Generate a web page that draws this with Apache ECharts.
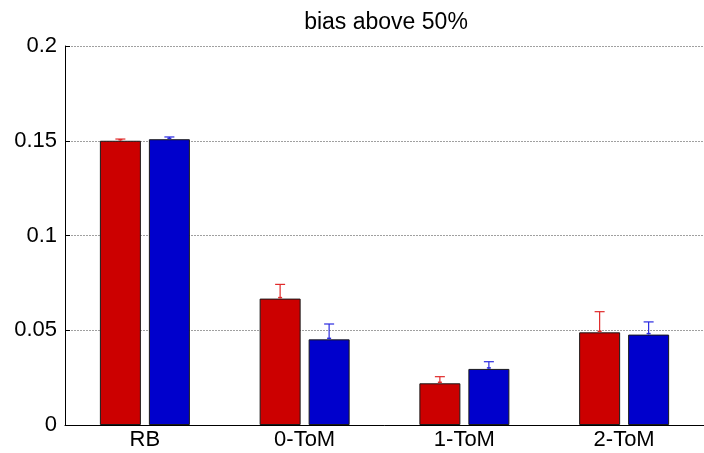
<!DOCTYPE html>
<html>
<head>
<meta charset="utf-8">
<script src="https://cdn.jsdelivr.net/npm/echarts@6/dist/echarts.min.js"></script>
<style>
  html, body { margin: 0; padding: 0; background: #fff; }
  #chart { width: 704px; height: 453px; }
</style>
</head>
<body>
<div id="chart"></div>
<script>
// Agent types on the x axis
const categories = ['RB', '0-ToM', '1-ToM', '2-ToM'];
// Mean bias for the two conditions
const redValues = [0.150, 0.0667, 0.0220, 0.0489];
const blueValues = [0.1508, 0.0452, 0.0296, 0.0477];
// Upper error (standard error) for each bar
const redErrors = [0.0009, 0.0075, 0.0035, 0.0109];
const blueErrors = [0.0012, 0.0081, 0.0038, 0.0067];
// Y axis ticks
const yTicks = [0, 0.05, 0.1, 0.15, 0.2];

const BAR_W = 41;
const BAR_GAP = 8;
const FONT = '"Liberation Sans", Arial, Helvetica, sans-serif';

function errorSeries(values, errors, color, side) {
  return {
    type: 'custom',
    z: 5,
    data: values.map((v, i) => [i, v, v + errors[i]]),
    renderItem: function (params, api) {
      const base = api.coord([api.value(0), api.value(1)]);
      const top = api.coord([api.value(0), api.value(2)]);
      const x = base[0] + side * (BAR_W + BAR_GAP) / 2;
      const half = 5;
      return {
        type: 'group',
        children: [
          { type: 'line', shape: { x1: x, y1: base[1], x2: x, y2: top[1] },
            style: { stroke: color, lineWidth: 1.2 } },
          { type: 'line', shape: { x1: x - half, y1: top[1], x2: x + half, y2: top[1] },
            style: { stroke: color, lineWidth: 1.2 } },
          { type: 'line', shape: { x1: x - 2, y1: base[1] - 1, x2: x + 2, y2: base[1] - 1 },
            style: { stroke: color, lineWidth: 1.5 } }
        ]
      };
    }
  };
}

const chart = echarts.init(document.getElementById('chart'), null, { renderer: 'canvas' });
chart.setOption({
  animation: false,
  backgroundColor: '#fff',
  graphic: [{
    type: 'text', x: 386, y: 11, z: 10,
    style: {
      text: 'bias above 50%', textAlign: 'center', textVerticalAlign: 'top',
      font: '23px ' + FONT, fill: '#000'
    }
  }],
  grid: { left: 65, right: -14, top: 46, bottom: 28, containLabel: false },
  xAxis: {
    type: 'category',
    data: categories,
    axisLine: { lineStyle: { color: '#000', width: 1 } },
    axisTick: { inside: true, alignWithLabel: true, length: 5, lineStyle: { color: '#000' } },
    axisLabel: { fontFamily: FONT, fontSize: 22, color: '#000', margin: 4 },
    splitLine: { show: false }
  },
  yAxis: {
    type: 'value',
    min: 0, max: 0.2, interval: 0.05,
    axisLine: { show: true, lineStyle: { color: '#000', width: 1 } },
    axisTick: { show: true, inside: true, length: 5, lineStyle: { color: '#000' } },
    axisLabel: {
      fontFamily: FONT, fontSize: 22, color: '#000', margin: 8,
      formatter: v => {
        const t = yTicks.find(k => Math.abs(k - v) < 1e-9);
        return t === undefined ? '' : String(t);
      }
    },
    splitLine: { show: true, lineStyle: { color: '#a0a0a0', type: [2, 1], width: 1 } }
  },
  series: [
    {
      type: 'bar', data: redValues, barWidth: BAR_W, barGap: (BAR_GAP / BAR_W * 100) + '%',
      itemStyle: { color: '#cc0000', borderColor: '#1a1a1a', borderWidth: 1 }
    },
    {
      type: 'bar', data: blueValues, barWidth: BAR_W,
      itemStyle: { color: '#0000cc', borderColor: '#1a1a1a', borderWidth: 1 }
    },
    errorSeries(redValues, redErrors, '#e02a2a', -1),
    errorSeries(blueValues, blueErrors, '#2a2ae0', 1)
  ]
});
</script>
</body>
</html>
